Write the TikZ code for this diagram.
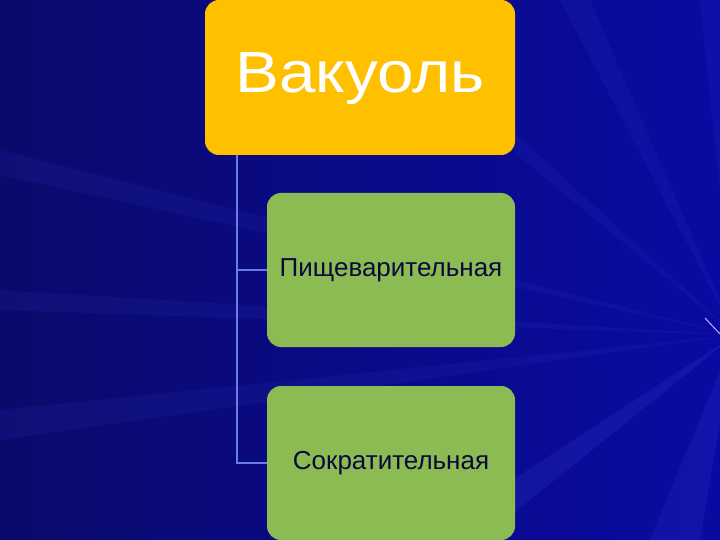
\documentclass[tikz,border=0pt]{standalone}
\usepackage{fontspec}
\setmainfont{Liberation Sans}
\definecolor{bgleft}{HTML}{0A0A6C}
\definecolor{bgright}{HTML}{0A0AA2}
\definecolor{raycol}{HTML}{4A5AF0}
\definecolor{boxyellow}{HTML}{FFC000}
\definecolor{boxgreen}{HTML}{8BBB52}
\definecolor{conncol}{HTML}{6A7AE6}
\definecolor{darktext}{HTML}{0A0A3A}
\tikzset{
  topbox/.style={draw=none, fill=boxyellow, rounded corners=14pt, minimum width=310pt, minimum height=155pt, inner sep=0pt, text=white, font=\fontsize{58}{64}\selectfont},
  subbox/.style={draw=none, fill=boxgreen, rounded corners=14pt, minimum width=248pt, minimum height=154pt, inner sep=0pt, text=darktext, font=\fontsize{26}{30}\selectfont},
  conn/.style={draw=conncol, line width=1.2pt},
  ray/.style={fill=raycol, draw=none, fill opacity=0.08}
}
\begin{document}
\begin{tikzpicture}[x=1pt,y=-1pt]
\useasboundingbox (0,0) rectangle (720,540);
\shade[left color=bgleft, right color=bgright] (0,0) rectangle (720,540);
% background rays
\coordinate (o) at (735,335);
\fill[ray] (o) -- (0,150) -- (0,175) -- cycle;
\fill[ray] (o) -- (330,0) -- (370,0) -- cycle;
\fill[ray] (o) -- (560,0) -- (590,0) -- cycle;
\fill[ray] (o) -- (700,0) -- (720,0) -- cycle;
\fill[ray] (o) -- (0,290) -- (0,310) -- cycle;
\fill[ray] (o) -- (0,410) -- (0,440) -- cycle;
\fill[ray, fill opacity=0.14] (o) -- (420,540) -- (480,540) -- cycle;
\fill[ray, fill opacity=0.12] (o) -- (650,540) -- (700,540) -- cycle;
\fill[ray, fill opacity=0.10] (o) -- (720,440) -- (720,470) -- cycle;
\draw[white!70!blue, line width=1pt] (705,318) -- (720,334);
% nodes
\node[topbox] (top) at (360,77.5) {\raisebox{-15.5pt}[0pt][0pt]{\scalebox{1.13}[1]{Вакуоль}}};
\node[subbox] (g1) at (391,270) {Пищеварительная};
\node[subbox] (g2) at (391,463) {Сократительная};
\coordinate (c) at (237,0);
\draw[conn] (top.south -| c) |- (g1.west);
\draw[conn] (top.south -| c) |- (g2.west);
\end{tikzpicture}
\end{document}
